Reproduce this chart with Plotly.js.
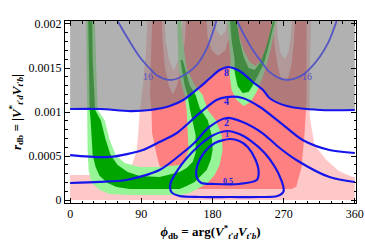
<!DOCTYPE html>
<html>
<head>
<meta charset="utf-8">
<script src="https://cdn.plot.ly/plotly-3.0.1.min.js"></script>
<style>html,body{margin:0;padding:0;background:#fff;}#chart{width:365px;height:245px;}</style>
</head>
<body>
<div id="chart"></div>
<script>
// ---- axis ticks ----
const phiTicks = [0, 90, 180, 270, 360];
const rTicks = [0, 0.0005, 0.001, 0.0015, 0.002];
const rTickLabels = ['0', '0.0005', '0.001', '0.0015', '0.002'];

// ---- regions (phi in degrees, r in units of 1e-3) ----
const lightPinkPhi = [0, 360, 360, 357, 340, 324, 309, 303, 303, 305, 98, 96, 92, 88, 86, 84, 78, 60, 30, 0];
const lightPinkR   = [0, 0, 0.26, 0.261, 0.33, 0.455, 0.625, 0.943, 1.5, 2.1, 2.1, 1.7, 1.3, 1.0, 0.75, 0.55, 0.4, 0.3, 0.284, 0.284];

const darkPinkPhi = [104, 299, 299, 296.5, 292.7, 286, 280, 125, 118, 117, 110, 103.6, 103, 101, 102, 104];
const darkPinkR   = [2.1, 2.1, 1.136, 0.761, 0.375, 0.15, 0.125, 0.125, 0.2, 0.261, 0.489, 0.761, 0.989, 1.216, 1.6, 2.1];

const holeA_pinkPhi = [116, 117, 120, 125, 130, 135, 140, 145, 147];
const holeA_pinkR   = [2.1, 1.8, 1.5, 1.3, 1.2, 1.3, 1.5, 1.8, 2.1];
const holeA_whitePhi = [119.5, 121, 125, 131, 137, 141, 142.5];
const holeA_whiteR   = [2.1, 1.8, 1.6, 1.47, 1.6, 1.8, 2.1];
const holeB_pinkPhi = [172, 174, 179, 187, 196, 201, 204];
const holeB_pinkR   = [2.1, 1.85, 1.7, 1.64, 1.7, 1.85, 2.1];
const holeB_whitePhi = [183, 185, 191, 197, 199];
const holeB_whiteR   = [2.1, 1.93, 1.86, 1.93, 2.1];
const holeC_pinkPhi = [256, 258, 262, 266, 271, 276, 280, 283, 284.5];
const holeC_pinkR   = [2.1, 1.8, 1.55, 1.4, 1.35, 1.4, 1.55, 1.8, 2.1];
const holeC_whitePhi = [261, 262.5, 266, 271, 276, 279, 280.5];
const holeC_whiteR   = [2.1, 1.85, 1.68, 1.6, 1.68, 1.85, 2.1];

const greenLightPhi = [20.2, 20.9, 20.9, 22.1, 22.1, 23.4, 27.2, 37.3, 50, 75.2, 138.5, 151.1, 163.8, 172.6, 182.7, 189, 192.8, 191.6, 184, 173.9, 167.6, 157.4, 147.3, 142.3, 139.7,
  135.3, 136, 137.2, 141, 144.8, 147.3, 148.6, 149.8, 144.8, 138.5, 113.2, 87.9, 68.9, 57.5, 50, 43.6, 34.8, 32.2, 31];
const greenLightR = [2.1, 1.591, 1.023, 0.795, 0.568, 0.341, 0.193, 0.114, 0.068, 0.057, 0.057, 0.080, 0.136, 0.182, 0.284, 0.398, 0.568, 0.739, 0.909, 1.023, 1.193, 1.307, 1.5, 1.818, 2.1,
  2.1, 1.818, 1.5, 1.307, 1.193, 1.023, 0.83, 0.568, 0.455, 0.398, 0.375, 0.375, 0.42, 0.511, 0.682, 0.909, 1.023, 1.591, 2.1];

const greenDarkPhi = [22.8, 23.4, 24.7, 25.9, 27.2, 28.5, 32.2, 37.3, 47.4, 58.8, 75.2, 138.5, 147.3, 157.4, 163.8, 172.6, 177.7, 180.2, 178.9, 173.9, 163.8, 158.7, 151.1, 144.8, 142.3,
  139.7, 141, 144.8, 148.6, 151.1, 154.9, 158.7, 158.7, 154.9, 147.3, 138.5, 113.2, 87.9, 72.7, 60.1, 51.2, 45, 38.6, 31.6, 28.5, 27.8];
const greenDarkR = [2.1, 1.591, 1.023, 0.909, 0.682, 0.511, 0.375, 0.273, 0.193, 0.148, 0.125, 0.125, 0.159, 0.205, 0.261, 0.341, 0.455, 0.568, 0.739, 0.909, 1.045, 1.193, 1.307, 1.5, 1.591,
  1.591, 1.5, 1.307, 1.193, 1.045, 0.909, 0.739, 0.534, 0.432, 0.364, 0.318, 0.261, 0.273, 0.318, 0.398, 0.511, 0.682, 0.909, 1.023, 1.591, 2.1];

const green2LightPhi = [197.9, 200.4, 203, 201.7, 204.2, 210.5, 219.4, 228.2, 235.8, 242.2, 247.2, 253.5, 262.4, 257.3, 249.8, 242.2, 234.6, 227, 219.4, 213.1, 210.5];
const green2LightR   = [2.1, 1.818, 1.591, 1.42, 1.25, 1.136, 1.068, 1.114, 1.227, 1.364, 1.5, 1.705, 2.1, 2.1, 1.761, 1.591, 1.523, 1.568, 1.705, 1.875, 2.1];
const green2DarkPhi = [201.7, 204.2, 208, 208, 211.8, 218.1, 225.7, 232, 238.4, 244.7, 249.8, 260.5, 258.6, 247.9, 240.9, 233.3, 225.7, 219.4, 214.3, 209.3];
const green2DarkR   = [2.1, 1.818, 1.591, 1.455, 1.295, 1.216, 1.227, 1.318, 1.432, 1.545, 1.705, 2.1, 2.1, 1.739, 1.568, 1.477, 1.5, 1.625, 1.818, 2.1];

// ---- contour lines (phi, r in 1e-3) ----
const c16aPhi = [60, 74, 88, 100, 109, 118, 126, 134, 142, 151, 160, 173, 185];
const c16aR   = [2.034, 1.82, 1.625, 1.5, 1.42, 1.38, 1.364, 1.375, 1.409, 1.46, 1.534, 1.727, 2.034];
const c16bPhi = [211, 221, 231, 242, 252, 263, 274, 284, 294, 305, 315.5, 327, 337];
const c16bR   = [2.034, 1.86, 1.705, 1.57, 1.455, 1.39, 1.364, 1.38, 1.42, 1.51, 1.625, 1.8, 2.034];
const c8Phi = [0, 38, 76, 101, 126, 143, 164, 177, 189, 199, 209, 218, 231, 244, 252, 274, 316, 360];
const c8R   = [1.034, 1.034, 1.011, 1.023, 1.068, 1.136, 1.284, 1.386, 1.477, 1.511, 1.49, 1.443, 1.341, 1.25, 1.159, 1.068, 1.023, 1.023];
const c4Phi = [0, 50, 92, 113, 135, 164, 185, 198, 218, 240, 265, 294, 328, 360];
const c4R   = [0.511, 0.489, 0.568, 0.659, 0.761, 0.989, 1.136, 1.170, 1.159, 1.057, 0.886, 0.682, 0.568, 0.534];
const c2Phi = [0, 37, 71, 113, 142, 157, 176, 198, 218, 243, 265, 286, 328, 360];
const c2R   = [0.193, 0.205, 0.227, 0.341, 0.534, 0.648, 0.83, 0.932, 0.886, 0.761, 0.591, 0.455, 0.261, 0.205];
const c1Phi = [198, 214, 229, 246, 259, 267, 270, 262, 240, 202, 164, 138.5, 128, 127, 136, 148.6, 164, 179, 198];
const c1R   = [0.784, 0.75, 0.670, 0.534, 0.375, 0.227, 0.102, 0.045, 0.034, 0.034, 0.034, 0.045, 0.091, 0.193, 0.341, 0.489, 0.625, 0.727, 0.784];
const c05Phi = [202, 214, 224.5, 234.6, 238.4, 236, 214, 183, 166, 160, 161, 170, 183, 202];
const c05R   = [0.693, 0.67, 0.602, 0.455, 0.318, 0.227, 0.182, 0.182, 0.193, 0.261, 0.398, 0.545, 0.648, 0.693];

// ---- contour labels ----
const labelText = ['16', '16', '8', '4', '2', '1', '0.5'];
const labelPhi  = [99, 299, 198, 198, 198, 198, 199];
const labelR    = [1.40, 1.40, 1.45, 1.12, 0.885, 0.74, 0.215];

const M = 1e-3;
function poly(phi, rm, color) {
  return {x: phi, y: rm.map(v => v * M), mode: 'lines', fill: 'toself', fillcolor: color,
          line: {width: 0}, hoverinfo: 'skip', showlegend: false};
}
function curve(phi, rm, color, w) {
  return {x: phi, y: rm.map(v => v * M), mode: 'lines', line: {color: color, width: w, shape: 'spline', smoothing: 0.8},
          hoverinfo: 'skip', showlegend: false};
}

const LP = 'rgb(255,200,200)', DR = 'rgb(255,128,128)', WH = 'rgb(255,255,255)';
const LG = 'rgb(150,245,150)', DG = 'rgb(0,165,0)';
const grayPhi = c8Phi.concat([360, 0]);
const grayR = c8R.concat([2.1, 2.1]);

const traces = [
  poly(lightPinkPhi, lightPinkR, LP),
  poly(darkPinkPhi, darkPinkR, DR),
  poly(holeA_pinkPhi, holeA_pinkR, LP),
  poly(holeB_pinkPhi, holeB_pinkR, LP),
  poly(holeC_pinkPhi, holeC_pinkR, LP),
  poly(holeA_whitePhi, holeA_whiteR, WH),
  poly(holeB_whitePhi, holeB_whiteR, WH),
  poly(holeC_whitePhi, holeC_whiteR, WH),
  poly(greenLightPhi, greenLightR, LG),
  poly(green2LightPhi, green2LightR, LG),
  poly(greenDarkPhi, greenDarkR, DG),
  poly(green2DarkPhi, green2DarkR, DG),
  poly(grayPhi, grayR, 'rgba(118,118,118,0.57)'),
  curve(c16aPhi, c16aR, 'rgb(85,85,195)', 1.8),
  curve(c16bPhi, c16bR, 'rgb(85,85,195)', 1.8),
  curve(c8Phi, c8R, 'rgb(20,20,235)', 2.2),
  curve(c4Phi, c4R, 'rgb(20,20,235)', 2.2),
  curve(c2Phi, c2R, 'rgb(20,20,235)', 2.2),
  curve(c1Phi, c1R, 'rgb(20,20,235)', 2.2),
  curve(c05Phi, c05R, 'rgb(20,20,235)', 2.2)
];

const annotations = labelText.map((t, i) => ({
  x: labelPhi[i], y: labelR[i] * M, text: t, showarrow: false, xanchor: 'center', yanchor: 'middle',
  font: {family: 'Liberation Serif, Times New Roman, serif', size: t === '16' ? 10 : (t === '0.5' || t === '1' ? 8 : 10),
         color: t === '16' ? 'rgb(80,80,200)' : 'rgb(30,30,220)', weight: t === '16' ? 'normal' : 'bold'}
}));

const serif = 'Liberation Serif, Times New Roman, serif';
const layout = {
  width: 365, height: 245,
  margin: {l: 65, r: 9, t: 21, b: 42},
  paper_bgcolor: 'white', plot_bgcolor: 'white',
  showlegend: false,
  xaxis: {
    range: [-6.5, 361.5], tickvals: phiTicks, ticks: 'inside', ticklen: 5, tickwidth: 1, tickcolor: 'black',
    showline: true, linecolor: 'black', linewidth: 1, mirror: 'ticks', showgrid: false, zeroline: false,
    minor: {dtick: 15, tick0: 0, ticks: 'inside', ticklen: 2.5, tickcolor: 'black', showgrid: false},
    tickfont: {family: serif, size: 12, color: 'black'},
    title: {text: '<b><i>ϕ</i><sub>db</sub> = arg(<i>V</i><sup>*</sup><sub><i>t′d</i></sub><i>V</i><sub><i>t′b</i></sub>)</b>',
            font: {family: serif, size: 13, color: 'black'}, standoff: 6}
  },
  yaxis: {
    range: [-0.000034, 0.002034], tickvals: rTicks, ticktext: rTickLabels, ticks: 'inside', ticklen: 5, tickwidth: 1, tickcolor: 'black',
    showline: true, linecolor: 'black', linewidth: 1, mirror: 'ticks', showgrid: false, zeroline: false,
    minor: {dtick: 0.0001, tick0: 0, ticks: 'inside', ticklen: 2.5, tickcolor: 'black', showgrid: false},
    tickfont: {family: serif, size: 12, color: 'black'},
    title: {text: '<b><i>r</i><sub>db</sub> = |<i>V</i><sup>*</sup><sub><i>t′d</i></sub><i>V</i><sub><i>t′b</i></sub>|</b>',
            font: {family: serif, size: 13, color: 'black'}, standoff: 4}
  },
  annotations: annotations
};

Plotly.newPlot('chart', traces, layout, {staticPlot: true, displayModeBar: false});
</script>
</body>
</html>
